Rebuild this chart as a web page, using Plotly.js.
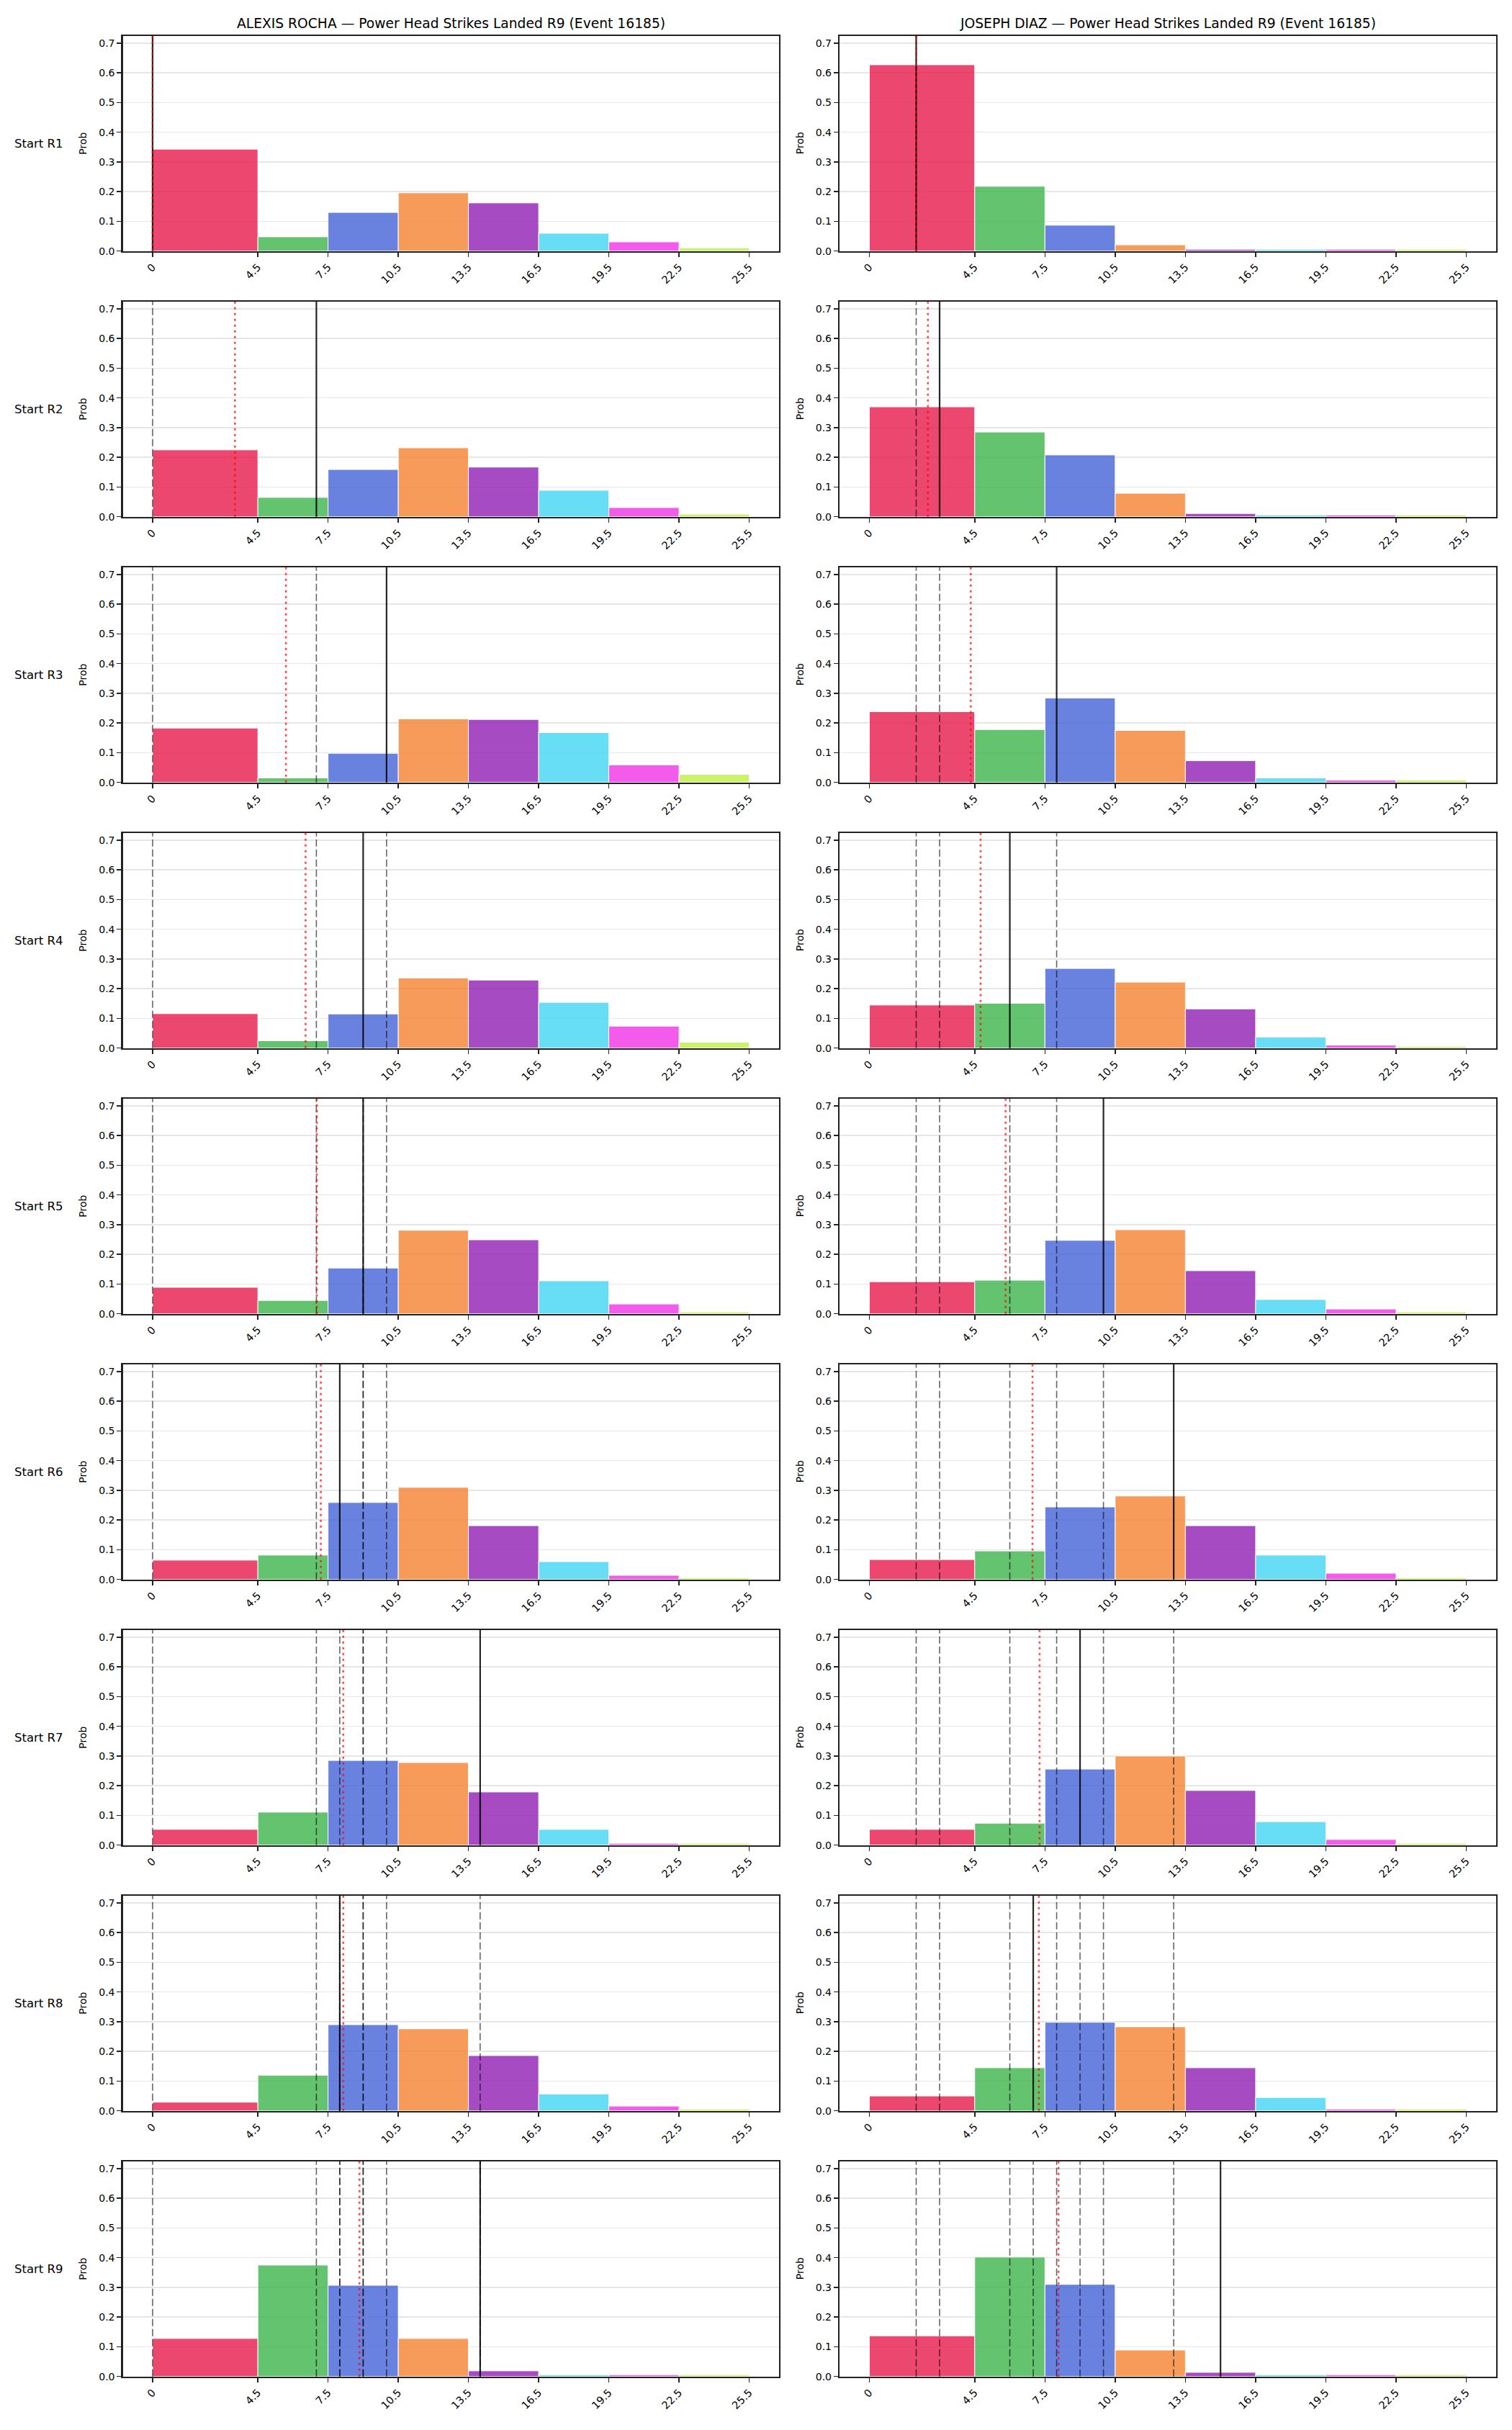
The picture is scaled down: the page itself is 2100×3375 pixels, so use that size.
<!DOCTYPE html>
<html>
<head>
<meta charset="utf-8">
<script src="https://cdn.plot.ly/plotly-3.0.1.min.js"></script>
<style>
  html, body { margin: 0; padding: 0; background: #ffffff; }
  #chart { width: 2100px; height: 3375px; }
</style>
</head>
<body>
<div id="chart"></div>
<script>
// ---------------- DATA ----------------
const binEdges = [0, 4.5, 7.5, 10.5, 13.5, 16.5, 19.5, 22.5, 25.5];
const tickText = ["0", "4.5", "7.5", "10.5", "13.5", "16.5", "19.5", "22.5", "25.5"];
const yTickVals = [0, 0.1, 0.2, 0.3, 0.4, 0.5, 0.6, 0.7];
const roundLabels = ["Start R1", "Start R2", "Start R3", "Start R4", "Start R5", "Start R6", "Start R7", "Start R8", "Start R9"];
const fighterTitles = [
  "ALEXIS ROCHA \u2014 Power Head Strikes Landed R9 (Event 16185)",
  "JOSEPH DIAZ \u2014 Power Head Strikes Landed R9 (Event 16185)"
];

// probability per bin, one row per round start
const rochaProbs = [
  [0.343, 0.048, 0.130, 0.196, 0.162, 0.060, 0.031, 0.011],
  [0.225, 0.065, 0.159, 0.232, 0.167, 0.089, 0.031, 0.009],
  [0.183, 0.015, 0.098, 0.214, 0.212, 0.168, 0.059, 0.027],
  [0.116, 0.025, 0.115, 0.236, 0.229, 0.154, 0.074, 0.020],
  [0.089, 0.045, 0.154, 0.281, 0.249, 0.111, 0.033, 0.006],
  [0.065, 0.082, 0.259, 0.310, 0.181, 0.060, 0.014, 0.006],
  [0.053, 0.111, 0.285, 0.278, 0.179, 0.053, 0.006, 0.006],
  [0.029, 0.120, 0.290, 0.276, 0.186, 0.057, 0.016, 0.006],
  [0.128, 0.375, 0.307, 0.128, 0.019, 0.006, 0.006, 0.006]
];
const diazProbs = [
  [0.627, 0.218, 0.087, 0.021, 0.006, 0.006, 0.006, 0.006],
  [0.370, 0.285, 0.208, 0.079, 0.011, 0.006, 0.006, 0.006],
  [0.238, 0.178, 0.284, 0.175, 0.073, 0.015, 0.008, 0.008],
  [0.145, 0.151, 0.268, 0.222, 0.132, 0.037, 0.010, 0.006],
  [0.108, 0.113, 0.247, 0.283, 0.145, 0.048, 0.016, 0.006],
  [0.067, 0.096, 0.244, 0.281, 0.181, 0.082, 0.021, 0.006],
  [0.053, 0.074, 0.256, 0.300, 0.184, 0.079, 0.019, 0.006],
  [0.050, 0.145, 0.298, 0.283, 0.145, 0.045, 0.006, 0.006],
  [0.137, 0.402, 0.310, 0.089, 0.014, 0.006, 0.006, 0.006]
];
// solid black marker per round start (earlier ones are repeated as dashed lines)
const rochaMarks = [0, 7, 10, 9, 9, 8, 14, 8, 14];
const diazMarks = [2, 3, 8, 6, 10, 13, 9, 7, 15];
// red dotted marker per round start
const rochaRed = [0, 3.52, 5.70, 6.54, 7.02, 7.19, 8.15, 8.15, 8.84];
const diazRed = [2, 2.5, 4.33, 4.75, 5.82, 6.97, 7.27, 7.24, 8.08];

const binColors = [
  "rgba(230,25,75,0.8)", "rgba(60,180,75,0.8)", "rgba(67,99,216,0.8)", "rgba(245,130,49,0.8)",
  "rgba(145,30,180,0.8)", "rgba(66,212,244,0.8)", "rgba(240,50,230,0.8)", "rgba(191,239,69,0.8)"
];

// ---------------- LAYOUT GEOMETRY ----------------
const W = 2100, H = 3375;
const colX = [[170.5, 1082], [1166, 2078]];
const rowTop0 = 49.7, rowPitch = 369, plotH = 299;
const FONT = "DejaVu Sans";

const centers = [], widths = [];
for (let i = 0; i < binEdges.length - 1; i++) {
  centers.push((binEdges[i] + binEdges[i + 1]) / 2);
  widths.push(binEdges[i + 1] - binEdges[i]);
}

const fighters = [
  { probs: rochaProbs, marks: rochaMarks, red: rochaRed },
  { probs: diazProbs, marks: diazMarks, red: diazRed }
];

const traces = [];
const shapes = [];
const annotations = [];
const layout = {
  width: W, height: H, autosize: false,
  margin: { l: 0, r: 0, t: 0, b: 0, pad: 0 },
  paper_bgcolor: "#ffffff", plot_bgcolor: "#ffffff",
  showlegend: false,
  font: { family: FONT, color: "#000000", size: 14 },
  bargap: 0
};

for (let r = 0; r < 9; r++) {
  const top = rowTop0 + rowPitch * r;
  for (let c = 0; c < 2; c++) {
    const k = r * 2 + c + 1;
    const xn = k === 1 ? "xaxis" : "xaxis" + k;
    const yn = k === 1 ? "yaxis" : "yaxis" + k;
    const xr = k === 1 ? "x" : "x" + k;
    const yr = k === 1 ? "y" : "y" + k;
    const f = fighters[c];

    layout[xn] = {
      domain: [colX[c][0] / W, colX[c][1] / W],
      anchor: yr, range: [-1.275, 26.775], automargin: false,
      tickmode: "array", tickvals: binEdges, ticktext: tickText, tickangle: -45,
      ticks: "outside", ticklen: 6, tickwidth: 1.5, tickcolor: "#222",
      showline: true, mirror: true, linecolor: "#222", linewidth: 2.2,
      showgrid: false, zeroline: false,
      tickfont: { family: FONT, size: 14.5, color: "#000" }, fixedrange: true
    };
    layout[yn] = {
      domain: [1 - (top + plotH) / H, 1 - top / H],
      anchor: xr, range: [0, 0.7245], automargin: false,
      tickmode: "array", tickvals: yTickVals, tickformat: ".1f",
      ticks: "outside", ticklen: 6, tickwidth: 1.5, tickcolor: "#222",
      showline: true, mirror: true, linecolor: "#222", linewidth: 2.2,
      showgrid: true, gridcolor: "#e6e6e6", gridwidth: 1.5, zeroline: false,
      tickfont: { family: FONT, size: 14, color: "#000" }, fixedrange: true
    };

    traces.push({
      type: "bar", x: centers, y: f.probs[r], width: widths,
      marker: { color: binColors, line: { color: "#ffffff", width: 1 } },
      xaxis: xr, yaxis: yr, hoverinfo: "skip", showlegend: false
    });

    // dashed lines: earlier round marks
    for (let p = 0; p < r; p++) {
      shapes.push({
        type: "line", xref: xr, yref: yr + " domain",
        x0: f.marks[p], x1: f.marks[p], y0: 0, y1: 1,
        line: { color: "rgba(0,0,0,0.6)", width: 1.6, dash: "10px,4px" }
      });
    }
    // solid black line: current mark
    shapes.push({
      type: "line", xref: xr, yref: yr + " domain",
      x0: f.marks[r], x1: f.marks[r], y0: 0, y1: 1,
      line: { color: "rgba(0,0,0,0.85)", width: 2.2 }
    });
    // red dotted line
    shapes.push({
      type: "line", xref: xr, yref: yr + " domain",
      x0: f.red[r], x1: f.red[r], y0: 0, y1: 1,
      line: { color: "rgba(255,0,0,0.7)", width: 2.6, dash: "3px,5px" }
    });

    // "Prob" axis label
    annotations.push({
      xref: "paper", yref: "paper",
      x: (colX[c][0] - 55) / W, y: 1 - (top + plotH / 2) / H,
      text: "Prob", textangle: -90, showarrow: false,
      xanchor: "center", yanchor: "middle",
      font: { family: FONT, size: 14, color: "#000" }
    });
  }
  // row label
  annotations.push({
    xref: "paper", yref: "paper",
    x: 90 / W, y: 1 - (top + plotH / 2) / H,
    text: roundLabels[r], showarrow: false,
    xanchor: "right", yanchor: "middle",
    font: { family: FONT, size: 16.5, color: "#000" }
  });
}

// column titles
for (let c = 0; c < 2; c++) {
  annotations.push({
    xref: "paper", yref: "paper",
    x: (colX[c][0] + colX[c][1]) / 2 / W, y: 1 - 32 / H,
    text: fighterTitles[c], showarrow: false,
    xanchor: "center", yanchor: "middle",
    font: { family: FONT, size: 18.7, color: "#000" }
  });
}

layout.shapes = shapes;
layout.annotations = annotations;

Plotly.newPlot("chart", traces, layout, { staticPlot: true, displayModeBar: false });
</script>
</body>
</html>
